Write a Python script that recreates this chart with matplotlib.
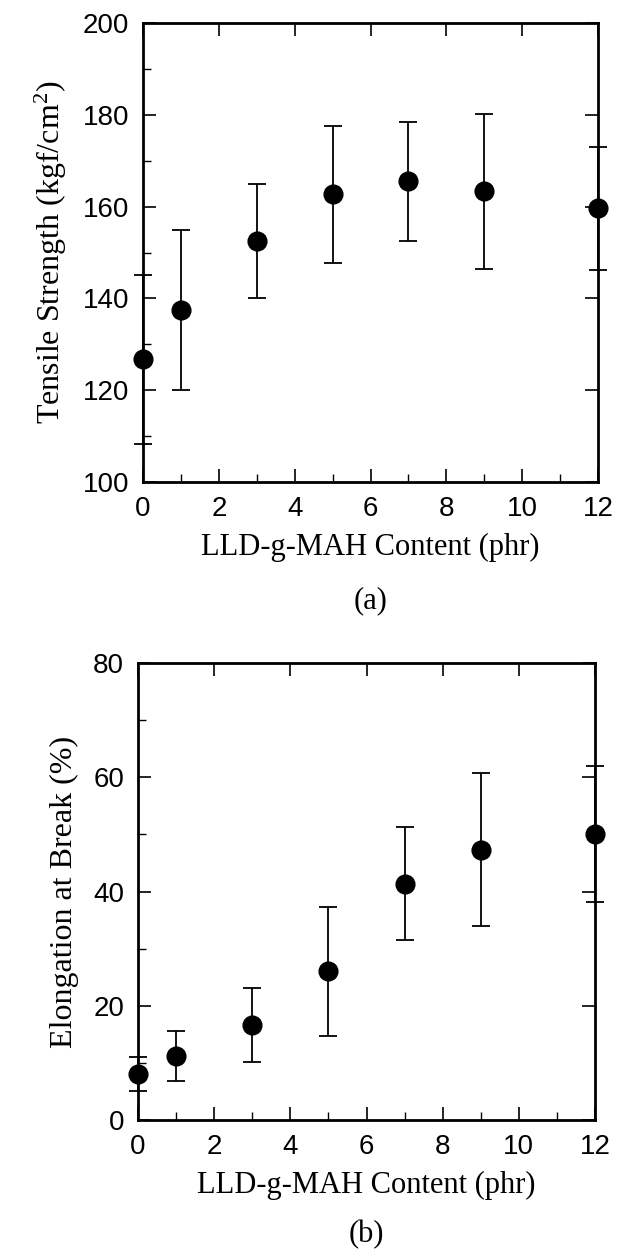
import matplotlib
matplotlib.use("Agg")
import matplotlib.pyplot as plt
from matplotlib.ticker import MultipleLocator, FixedLocator

plt.rcParams["mathtext.fontset"] = "custom"
plt.rcParams["mathtext.rm"] = "Liberation Serif"
plt.rcParams["mathtext.default"] = "rm"

# LLD-g-MAH content (phr)
content = [0, 1, 3, 5, 7, 9, 12]

# Tensile strength (kgf/cm^2) and its standard deviation
tensile = [126.7, 137.5, 152.5, 162.7, 165.5, 163.3, 159.6]
tensile_err = [18.5, 17.5, 12.5, 14.9, 12.9, 16.8, 13.4]

# Elongation at break (%) and its standard deviation
elong = [8.0, 11.2, 16.6, 26.0, 41.4, 47.3, 50.1]
elong_err = [3.0, 4.4, 6.5, 11.3, 9.9, 13.4, 11.9]

xticks = [0, 2, 4, 6, 8, 10, 12]
xlabel = "LLD-g-MAH Content (phr)"

tick_font = dict(family="Liberation Sans", size=20)
xlabel_font = dict(family="Liberation Serif", size=22)
ylabel_font = dict(family="Liberation Serif", size=23)

fig = plt.figure(figsize=(6.17, 12.51), dpi=100)
ax_a = fig.add_axes([0.2318, 0.6147, 0.7374, 0.3669])
ax_b = fig.add_axes([0.2237, 0.1047, 0.7407, 0.3653])


def style_axes(ax, ymin, ymax, ymajor, yminor):
    ax.set_xlim(0, 12)
    ax.set_ylim(ymin, ymax)
    for side in ax.spines.values():
        side.set_linewidth(2.0)
    ax.xaxis.set_major_locator(FixedLocator(xticks))
    ax.xaxis.set_minor_locator(MultipleLocator(1))
    ax.yaxis.set_major_locator(MultipleLocator(ymajor))
    ax.yaxis.set_minor_locator(MultipleLocator(yminor))
    ax.tick_params(which="major", direction="in", length=9.5, width=1.2,
                   pad=10, top=True, right=True)
    ax.tick_params(which="minor", direction="in", length=5.8, width=1.0,
                   top=False, right=False)
    for lab in ax.get_xticklabels() + ax.get_yticklabels():
        lab.set_fontfamily(tick_font["family"])
        lab.set_fontsize(tick_font["size"])
    ax.set_xlabel(xlabel, fontdict=xlabel_font, labelpad=8)


def draw(ax, y, err):
    ax.errorbar(content, y, yerr=err, fmt="o", color="black",
                markersize=13.5, elinewidth=1.3, capsize=6.5, capthick=1.3,
                clip_on=False, zorder=3)


draw(ax_a, tensile, tensile_err)
style_axes(ax_a, 100, 200, 20, 10)
ax_a.set_ylabel("Tensile Strength (kgf/cm$^{2}$)", fontdict=ylabel_font,
                labelpad=10)

draw(ax_b, elong, elong_err)
style_axes(ax_b, 0, 80, 20, 10)
ax_b.set_ylabel("Elongation at Break (%)", fontdict=ylabel_font, labelpad=10)

fig.text(0.600, 0.5196, "(a)", ha="center", va="center", **xlabel_font)
fig.text(0.593, 0.0015, "(b)", ha="center", va="bottom", **xlabel_font)

fig.savefig("out.png", dpi=100)
